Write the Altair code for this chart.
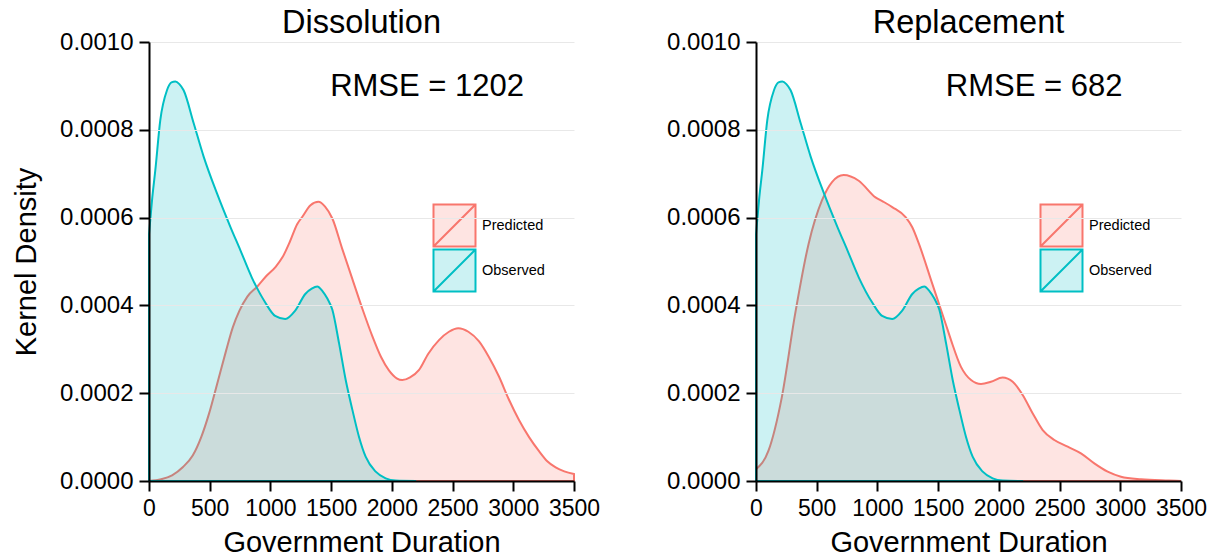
import altair as alt
import pandas as pd

# ---------------- data ----------------
series_names = ["Predicted", "Observed"]
line_colors = ["#F8766D", "#00BFC4"]
fill_colors = ["rgba(248,118,109,0.2)", "rgba(0,191,196,0.2)"]

obs_x = [0, 25, 52, 93, 148, 185, 217, 250, 285, 368, 450, 560, 670, 752, 846,
         956, 1039, 1122, 1204, 1287, 1340, 1386, 1430, 1470, 1510, 1565, 1620,
         1675, 1729, 1784, 1867, 1949, 2031, 2200]
obs_y = [0.000562, 0.00064, 0.000708, 0.000822, 0.00089, 0.000908, 0.00091,
         0.000904, 0.00089, 0.000815, 0.000739, 0.000655, 0.000579, 0.000526,
         0.000464, 0.000407, 0.000376, 0.000369, 0.000388, 0.000426, 0.000438,
         0.000443, 0.000432, 0.000415, 0.00039, 0.000314, 0.00023, 0.000162,
         0.000101, 0.0000554, 0.0000212, 0.000006, 0.000001, 0.0]

dis_pred_x = [0, 100, 190, 280, 360, 430, 495, 560, 635, 690, 745, 810, 892, 970,
              1043, 1100, 1160, 1220, 1263, 1330, 1395, 1450, 1510, 1590, 1675,
              1760, 1839, 1910, 1976, 2040, 2086, 2150, 2224, 2300, 2388, 2470,
              2547, 2630, 2718, 2800, 2882, 2960, 3047, 3130, 3212, 3280, 3349,
              3420, 3500]
dis_pred_y = [0.0, 0.000004, 0.000013, 0.000032, 0.000058, 0.0001, 0.000154,
              0.00022, 0.000297, 0.00035, 0.000388, 0.00042, 0.000443, 0.000468,
              0.000488, 0.00051, 0.000545, 0.000585, 0.000602, 0.000628, 0.000636,
              0.000625, 0.000598, 0.00053, 0.00046, 0.00039, 0.00033, 0.000283,
              0.000252, 0.000234, 0.00023, 0.000236, 0.000253, 0.00029, 0.000321,
              0.00034, 0.000348, 0.00034, 0.000318, 0.000282, 0.000238, 0.000188,
              0.000139, 0.0001, 0.000068, 0.000045, 0.000031, 0.000022, 0.000016]

rep_pred_x = [0, 102, 212, 322, 433, 543, 626, 722, 846, 984, 1050, 1122, 1232,
              1287, 1342, 1452, 1563, 1606, 1688, 1771, 1853, 1935, 2031, 2114,
              2196, 2279, 2361, 2457, 2567, 2676, 2786, 2896, 3006, 3171, 3400, 3500]
rep_pred_y = [0.0000266, 0.0000684, 0.00019, 0.00038, 0.00054, 0.000639, 0.000681,
              0.000697, 0.000684, 0.000646, 0.000636, 0.000624, 0.000601, 0.000578,
              0.00054, 0.000449, 0.000357, 0.000321, 0.00026, 0.00023, 0.000221,
              0.000226, 0.000236, 0.000226, 0.000196, 0.000154, 0.000116, 0.0000934,
              0.0000781, 0.000063, 0.00004, 0.0000212, 0.0000098, 0.0000039,
              0.000001, 0.0]

x_ticks = [0, 500, 1000, 1500, 2000, 2500, 3000, 3500]
y_ticks = [0.0, 0.0002, 0.0004, 0.0006, 0.0008, 0.0010]
panel_titles = ["Dissolution", "Replacement"]
rmse_labels = ["RMSE = 1202", "RMSE = 682"]
rmse_x = [2290, 2290]
rmse_y = [0.000898, 0.000898]

FONT = "Liberation Sans"
# legend key: a square with a diagonal, drawn slightly larger than its nominal size
SYMBOL = "M-1.135,-1.135L1.135,-1.135L1.135,1.135L-1.135,1.135Z M-1.135,1.135L1.135,-1.135"

AXIS_COMMON = dict(domainColor="black", domainWidth=2, tickColor="black", tickWidth=2,
                   tickSize=10, labelColor="black", labelFont=FONT, labelPadding=6,
                   titleFontSize=29, titleFontWeight="normal", titleColor="black",
                   titleFont=FONT, zindex=1, labelOverlap=False, labelFlush=False)


def panel(pred_x, pred_y, title, rmse, rx, ry, y_title):
    df = pd.concat([
        pd.DataFrame({"x": pred_x, "y": pred_y, "series": "Predicted"}),
        pd.DataFrame({"x": obs_x, "y": obs_y, "series": "Observed"}),
    ], ignore_index=True)

    xenc = alt.X("x:Q", scale=alt.Scale(domain=[0, 3500], nice=False),
                 axis=alt.Axis(values=x_ticks, format="d", title="Government Duration",
                               grid=False, labelFontSize=23, titlePadding=8,
                               **AXIS_COMMON))
    yaxis_kwargs = dict(values=y_ticks, format=".4f", grid=True, gridColor="#E8E8E8",
                        gridWidth=1, labelFontSize=24, titlePadding=18, **AXIS_COMMON)
    yaxis_kwargs["title"] = y_title if y_title else None
    yenc = alt.Y("y:Q", scale=alt.Scale(domain=[0, 0.001], nice=False),
                 axis=alt.Axis(**yaxis_kwargs))

    legend = alt.Legend(title=None, orient="none", legendX=276, legendY=154,
                        symbolType=SYMBOL, symbolSize=1369,
                        symbolStrokeWidth=2, labelFontSize=14.5, labelOffset=8,
                        rowPadding=-13, padding=10, fillColor="white",
                        labelFont=FONT, labelColor="black")
    fill = alt.Fill("series:N", scale=alt.Scale(domain=series_names, range=fill_colors),
                    legend=legend)
    stroke = alt.Stroke("series:N", scale=alt.Scale(domain=series_names, range=line_colors),
                        legend=legend)

    base = alt.Chart(df)
    pred = base.transform_filter(alt.datum.series == "Predicted").mark_area(
        interpolate="monotone", strokeWidth=2).encode(x=xenc, y=yenc, fill=fill, stroke=stroke)
    obs = base.transform_filter(alt.datum.series == "Observed").mark_area(
        interpolate="monotone", strokeWidth=2).encode(x=xenc, y=yenc, fill=fill, stroke=stroke)

    tdf = pd.DataFrame({"x": [rx], "y": [ry], "label": [rmse]})
    txt = alt.Chart(tdf).mark_text(fontSize=31, font=FONT, color="black",
                                   align="center", baseline="middle").encode(
        x=xenc, y=yenc, text="label:N")

    return alt.layer(pred, obs, txt).properties(
        width=425, height=439,
        title=alt.TitleParams(title, fontSize=32.5, font=FONT, fontWeight="normal",
                              color="black", anchor="middle", offset=-9),
    ).resolve_scale(fill="independent", stroke="independent")


left = panel(dis_pred_x, dis_pred_y, panel_titles[0], rmse_labels[0], rmse_x[0], rmse_y[0],
             "Kernel Density")
right = panel(rep_pred_x, rep_pred_y, panel_titles[1], rmse_labels[1], rmse_x[1], rmse_y[1],
              None)

chart = alt.hconcat(left, right, spacing=66).resolve_scale(
    fill="independent", stroke="independent"
).resolve_legend(fill="independent", stroke="independent").configure(
    padding={"left": 12, "top": 6, "right": 0, "bottom": 0},
    background="white",
).configure_view(stroke=None)

chart.save("out.html", embed_options={"renderer": "svg", "actions": False})
